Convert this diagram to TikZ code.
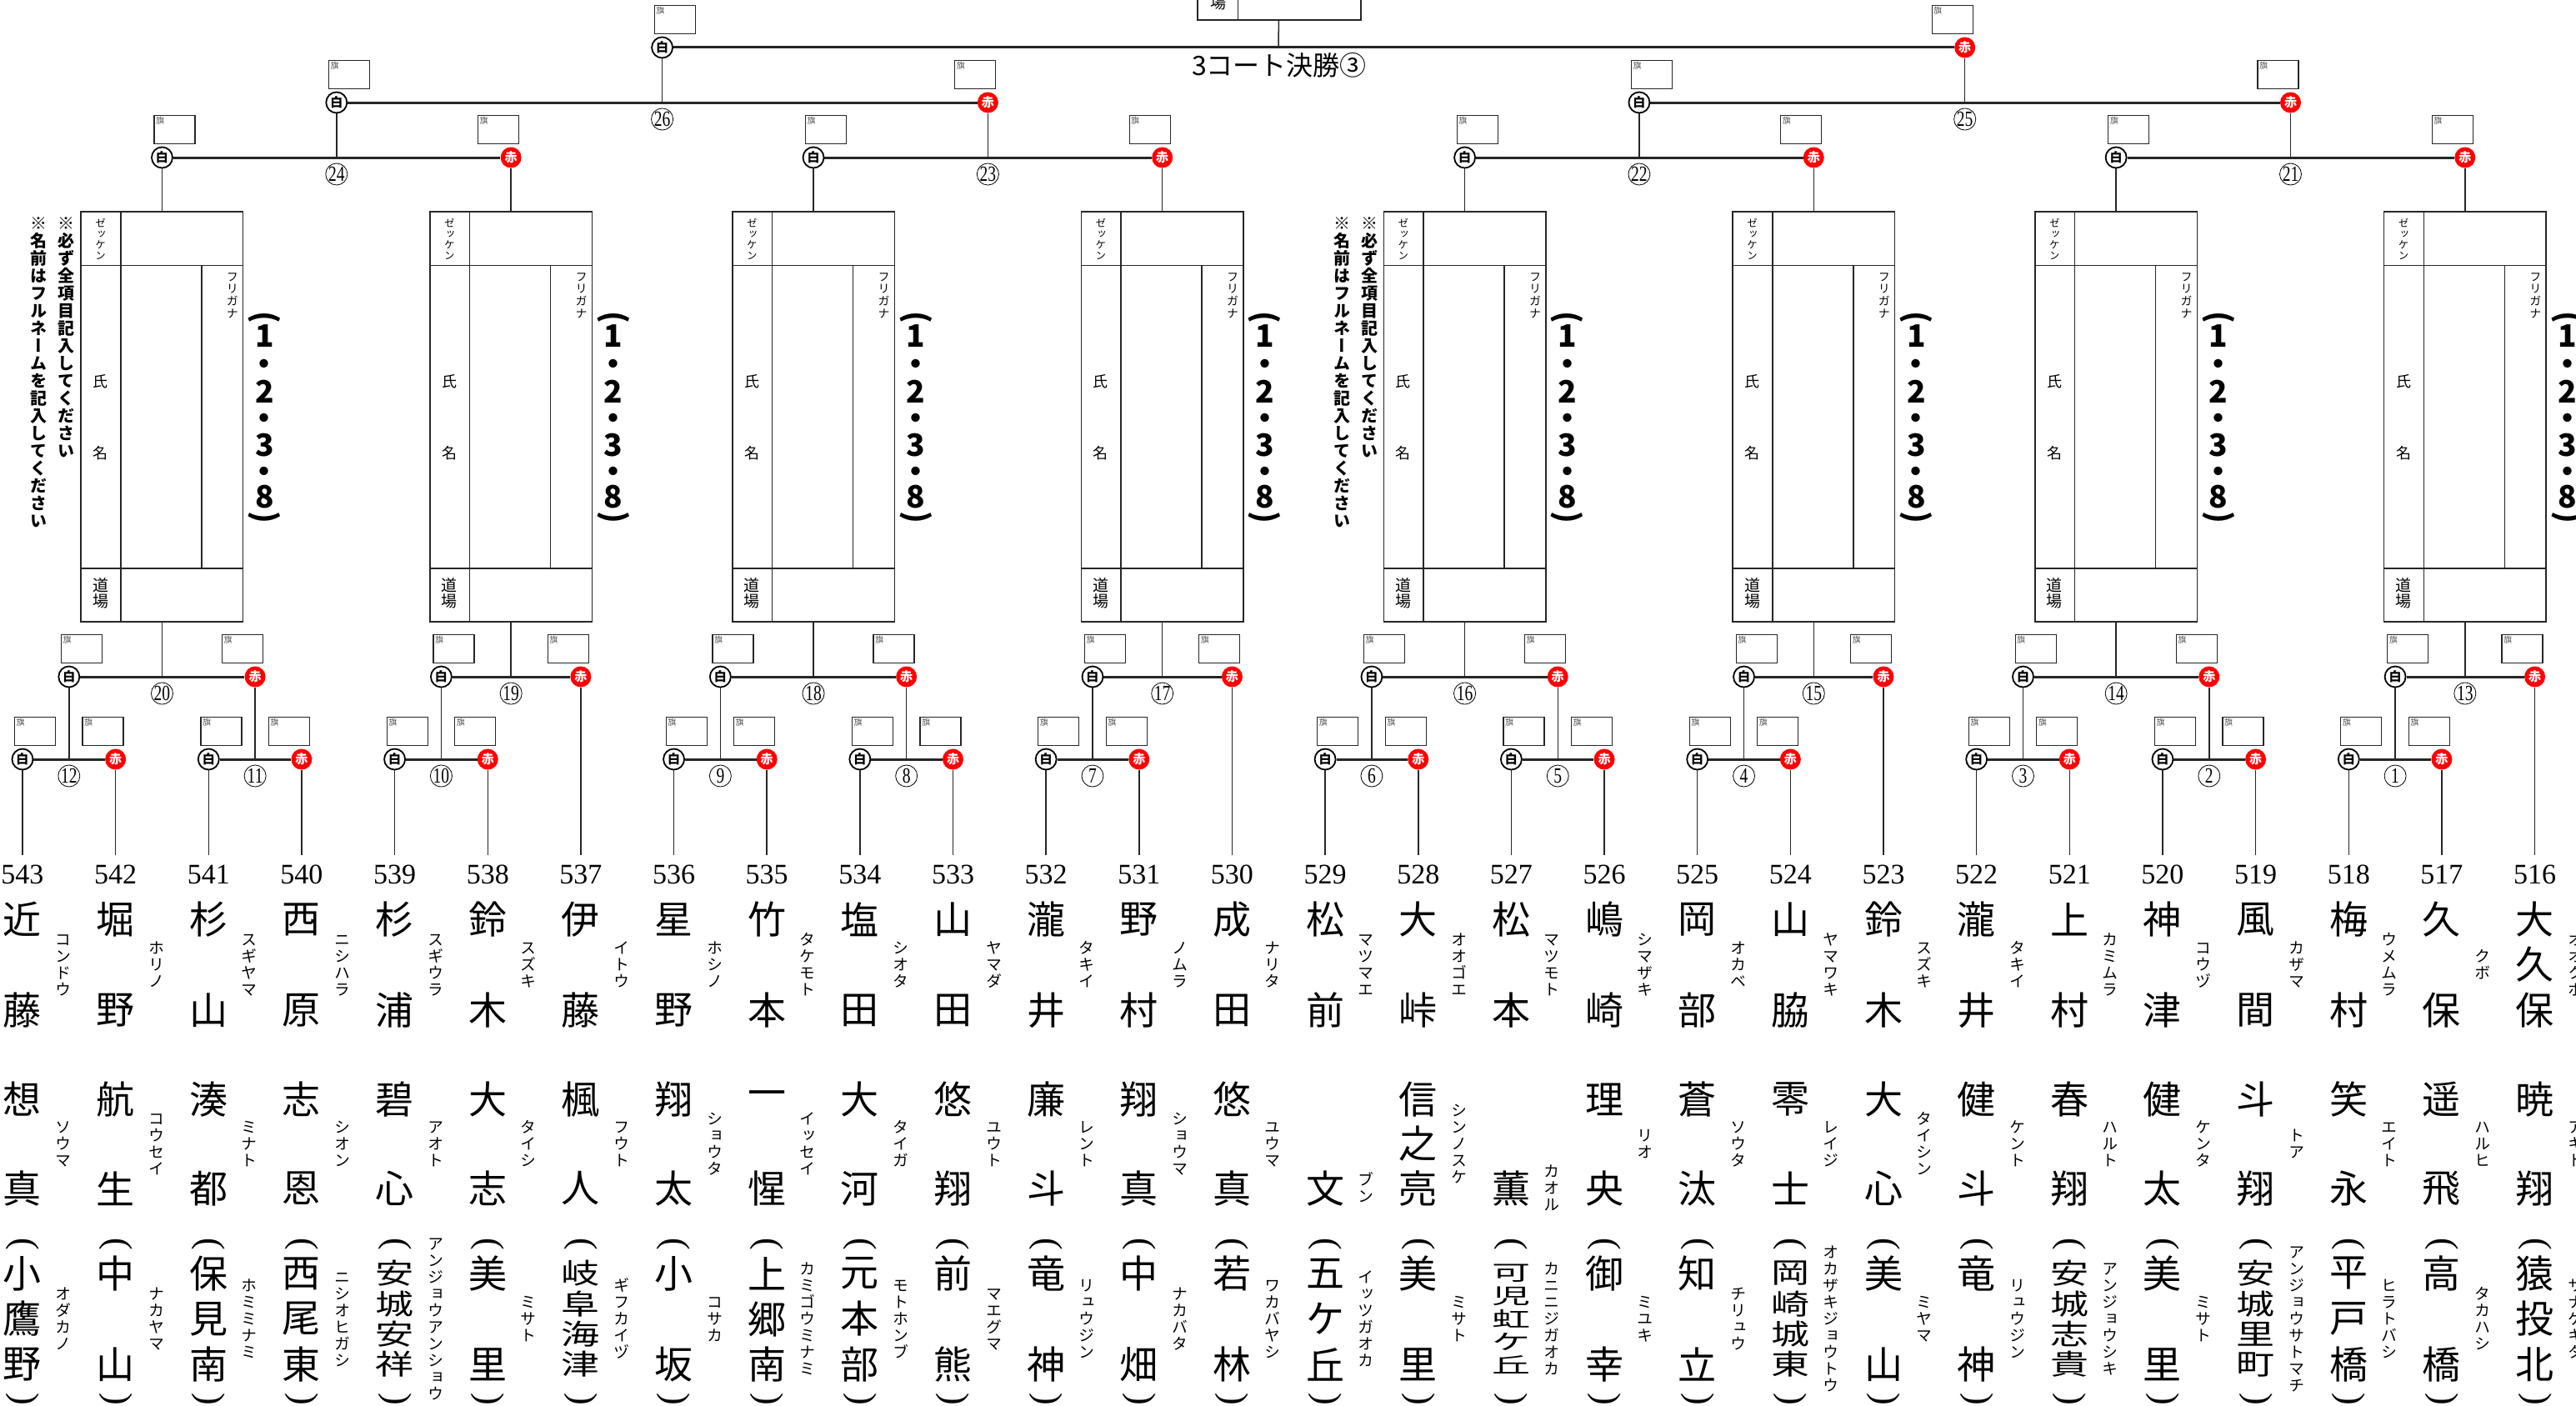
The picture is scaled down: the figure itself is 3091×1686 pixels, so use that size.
\documentclass[tikz,border=0pt]{standalone}
\usepackage{fontspec}
\usepackage{graphicx}
\setmainfont{Liberation Serif}
\newfontfamily\jph{Noto Sans CJK JP}
\newfontfamily\jpv[RawFeature=+vert]{Noto Sans CJK JP}
\usepackage{xcolor}
\definecolor{cLine}{HTML}{262626}
\definecolor{cRed}{HTML}{FF0000}
\definecolor{cFlag}{HTML}{555555}
\usepackage{tikz}
\usetikzlibrary{calc}
\newcommand\fs[1]{\fontsize{#1}{#1}\selectfont}
% vertical text: one character per line
\newcommand\tate[1]{\edef\tateStr{#1}\vbox{\offinterlineskip\expandafter\tatei\tateStr\relax}}
\def\tatei#1{\ifx\relax#1\else\hbox to 1em{\hss\vrule height .88em depth .17em width 0pt\relax#1\hss}\expandafter\tatei\fi}
% characters spread evenly between two heights
\newcount\spN \newcount\spI
\def\cntchi#1{\ifx\relax#1\else\advance\spN by 1 \expandafter\cntchi\fi}
\newcommand\spread[5]{%
  \edef\spStr{#5}\spN=0 \expandafter\cntchi\spStr\relax
  \ifnum\spN>1 \pgfmathsetmacro\spStep{(#4-#3)/(\the\spN-1)}\def\spStart{#3}%
  \else\def\spStep{0}\def\spStart{#4}\fi
  \ifnum\spN>3 \pgfmathsetmacro\spSc{0.85*\spStep/42}\else\def\spSc{1}\fi
  \def\spX{#2}\def\spName{#1}\spI=0
  \expandafter\spreadi\spStr\relax}
\def\spreadi#1{\ifx\relax#1\else
  \node[namechar] (\spName-\the\spI) at (\spX,{\spStart+\the\spI*\spStep}) {\scalebox{1}[\spSc]{#1}};%
  \advance\spI by 1 \expandafter\spreadi\fi}
\tikzset{
  pnum/.style={inner sep=0pt,outer ysep=12pt,font=\fs{34}},
  shiro/.style={circle,draw=black,line width=1.8pt,fill=white,minimum size=25pt,
    inner sep=0pt,font=\jph\bfseries\fs{15}},
  aka/.style={circle,fill=cRed,text=white,minimum size=25pt,inner sep=0pt,
    font=\jph\bfseries\fs{15}},
  matchno/.style={circle,draw=black,line width=.8pt,minimum size=26pt,inner sep=0pt,
    font=\fs{26}},
  hata/.style={draw=cLine,line width=1.2pt,minimum width=49pt,minimum height=34pt,
    inner sep=0pt,label={[anchor=north west,inner sep=2.5pt,text=cFlag,
    font=\jph\fs{10}]north west:旗}},
  meibox/.style={draw=cLine,line width=1.5pt,minimum width=194.5pt,
    minimum height=492pt,inner sep=0pt},
  boxline/.style={draw=cLine,line width=1.5pt},
  bar/.style={draw=cLine,line width=3pt},
  stem/.style={draw=cLine,line width=1.5pt},
  namechar/.style={inner sep=0pt,font=\jph\fs{46}},
  paren/.style={inner sep=0pt,font=\fs{44}},
  furi/.style={inner sep=0pt,font=\jpv\fs{19}},
  lbl/.style={inner sep=0pt},
  bango/.style={inner sep=0pt,font=\jph\bfseries\fs{37}},
  chui/.style={inner sep=0pt,font=\jpv\bfseries\fs{20}},
}
% one bout: white and red marks, bar, flag boxes
\newcommand\taisen[4]{%
  \node[shiro] (w#1) at (#2 |- #4) {白};
  \node[aka] (r#1) at (#3 |- #4) {赤};
  \coordinate (c#1) at ($(w#1)!.5!(r#1)$);
  \draw[bar] (w#1) -- (r#1);
  \node[hata,anchor=south west] (hw#1) at ($(w#1)+(-10,-16)$) {};
  \node[hata,anchor=south east] (hr#1) at ($(r#1)+(10,-16)$) {};
}
\newcommand\nakaten{\smash{\raisebox{-.38em}{・}}}
\begin{document}
\begin{tikzpicture}[x=1pt,y=-1pt]
  \useasboundingbox (0,0) rectangle (3091,1686);
  \coordinate (yF) at (0,57);
  \coordinate (y2) at (0,123);
  \coordinate (y3) at (0,189);
  \coordinate (yb) at (0,500);
  \coordinate (y4) at (0,812);
  \coordinate (y5) at (0,911);

  % player numbers
  \foreach \k in {0,...,27}{
    \pgfmathtruncatemacro\pnumber{543-\k}
    \node[pnum] (n\k) at ({27+111.65*\k},1049) {\pnumber};
  }

  % first round
  \foreach \m/\wk in {12/0,11/2,10/4,9/7,8/9,7/11,6/14,5/16,4/18,3/21,2/23,1/25}{
    \pgfmathtruncatemacro\rk{\wk+1}
    \taisen{\m}{n\wk}{n\rk}{y5}
    \draw[stem] (w\m) -- (n\wk);
    \draw[stem] (r\m) -- (n\rk);
    \node[matchno] (mn\m) at ($(c\m)+(0,20)$) {\scalebox{.75}[1]{\m}};
  }

  % second round
  \foreach \m/\wa/\rb in {20/c12/c11,19/c10/n6,18/c9/c8,17/c7/n13,16/c6/c5,15/c4/n20,14/c3/c2,13/c1/n27}{
    \taisen{\m}{\wa}{\rb}{y4}
    \draw[stem] (\wa) -- (w\m);
    \draw[stem] (\rb) -- (r\m);
    \node[matchno] (mn\m) at ($(c\m)+(0,20)$) {\scalebox{.75}[1]{\m}};
  }

  % entry boxes
  \foreach \i/\m in {1/20,2/19,3/18,4/17,5/16,6/15,7/14,8/13}{
    \node[meibox] (box\i) at (c\m |- yb) {};
    \draw[boxline] ([xshift=48.5pt]box\i.north west) -- ([xshift=48.5pt]box\i.south west);
    \draw[boxline] ([yshift=-65pt]box\i.north west) -- ([yshift=-65pt]box\i.north east);
    \draw[boxline] ([yshift=65pt]box\i.south west) -- ([yshift=65pt]box\i.south east);
    \draw[boxline] ([shift={(145.5pt,-65pt)}]box\i.north west) -- ([shift={(145.5pt,65pt)}]box\i.south west);
    \node[lbl,font=\jpv\fs{12.5}] (zk\i) at ($(box\i.north west)+(24.25,34)$) {\tate{ゼッケン}};
    \node[lbl,font=\jph\fs{18}] (sh\i) at ($(box\i.north west)+(24.25,204)$) {氏};
    \node[lbl,font=\jph\fs{18}] (me\i) at ($(box\i.north west)+(24.25,290)$) {名};
    \node[lbl,font=\jpv\fs{19}] (dj\i) at ($(box\i.north west)+(24.25,459)$) {\tate{道場}};
    \node[lbl,font=\jpv\fs{14}] (fg\i) at ($(box\i.north west)+(182.5,101)$) {\tate{フリガナ}};
    \node[bango,rotate=-90] (bo\i) at ($(box\i.north east)+(25,128)$) {(};
    \node[bango,rotate=-90] (bc\i) at ($(box\i.north east)+(25,368)$) {)};
    \foreach \c/\d [count=\j] in {1/150,\nakaten/183,2/217,\nakaten/248,3/281,\nakaten/312,8/343}
      \node[bango] (bg\i-\j) at ($(box\i.north east)+(25,\d)$) {\c};
    \draw[stem] (c\m) -- (box\i);
  }
  \foreach \i in {1,5}{
    \node[chui,anchor=north] (chA\i) at ($(box\i.north west)+(-16.5,4)$) {\tate{※必ず全項目記入してください}};
    \node[chui,anchor=north] (chB\i) at ($(box\i.north west)+(-49.5,4)$) {\tate{※名前はフルネームを記入してください}};
  }

  % third round
  \foreach \m/\wa/\rb in {24/box1/box2,23/box3/box4,22/box5/box6,21/box7/box8}{
    \taisen{\m}{\wa}{\rb}{y3}
    \draw[stem] (\wa) -- (w\m);
    \draw[stem] (\rb) -- (r\m);
    \node[matchno] (mn\m) at ($(c\m)+(0,20)$) {\scalebox{.75}[1]{\m}};
  }

  % semifinals
  \foreach \m/\wa/\rb in {26/c24/c23,25/c22/c21}{
    \taisen{\m}{\wa}{\rb}{y2}
    \draw[stem] (\wa) -- (w\m);
    \draw[stem] (\rb) -- (r\m);
    \node[matchno] (mn\m) at ($(c\m)+(0,20)$) {\scalebox{.75}[1]{\m}};
  }

  % final
  \taisen{F}{c26}{c25}{yF}
  \draw[stem] (c26) -- (wF);
  \draw[stem] (c25) -- (rF);
  \node[meibox,minimum width=196pt,minimum height=100pt] (kaijo) at (1535,-26) {};
  \draw[boxline] ([xshift=49pt]kaijo.south west) -- ([xshift=49pt]kaijo.north west);
  \node[lbl,font=\jph\fs{19}] (ba) at (1461.5,3) {場};
  \coordinate (cF) at (1534,57);
  \draw[stem] (cF) -- (kaijo);
  \node[lbl,font=\jph\fs{32}] (title) at (1535,78) {3コート決勝③};

  % names
  \foreach \k/\sei/\seik/\mei/\meik/\dojo/\dojok in {
    0/近藤/コンドウ/想真/ソウマ/小鷹野/オダカノ,
    1/堀野/ホリノ/航生/コウセイ/中山/ナカヤマ,
    2/杉山/スギヤマ/湊都/ミナト/保見南/ホミミナミ,
    3/西原/ニシハラ/志恩/シオン/西尾東/ニシオヒガシ,
    4/杉浦/スギウラ/碧心/アオト/安城安祥/アンジョウアンショウ,
    5/鈴木/スズキ/大志/タイシ/美里/ミサト,
    6/伊藤/イトウ/楓人/フウト/岐阜海津/ギフカイヅ,
    7/星野/ホシノ/翔太/ショウタ/小坂/コサカ,
    8/竹本/タケモト/一惺/イッセイ/上郷南/カミゴウミナミ,
    9/塩田/シオタ/大河/タイガ/元本部/モトホンブ,
    10/山田/ヤマダ/悠翔/ユウト/前熊/マエグマ,
    11/瀧井/タキイ/廉斗/レント/竜神/リュウジン,
    12/野村/ノムラ/翔真/ショウマ/中畑/ナカバタ,
    13/成田/ナリタ/悠真/ユウマ/若林/ワカバヤシ,
    14/松前/マツマエ/文/ブン/五ケ丘/イッツガオカ,
    15/大峠/オオゴエ/信之亮/シンノスケ/美里/ミサト,
    16/松本/マツモト/薫/カオル/可児虹ケ丘/カニニジガオカ,
    17/嶋崎/シマザキ/理央/リオ/御幸/ミユキ,
    18/岡部/オカベ/蒼汰/ソウタ/知立/チリュウ,
    19/山脇/ヤマワキ/零士/レイジ/岡崎城東/オカザキジョウトウ,
    20/鈴木/スズキ/大心/タイシン/美山/ミヤマ,
    21/瀧井/タキイ/健斗/ケント/竜神/リュウジン,
    22/上村/カミムラ/春翔/ハルト/安城志貴/アンジョウシキ,
    23/神津/コウヅ/健太/ケンタ/美里/ミサト,
    24/風間/カザマ/斗翔/トア/安城里町/アンジョウサトマチ,
    25/梅村/ウメムラ/笑永/エイト/平戸橋/ヒラトバシ,
    26/久保/クボ/遥飛/ハルヒ/高橋/タカハシ,
    27/大久保/オオクボ/暁翔/アキト/猿投北/サナゲキタ}{
    \pgfmathsetmacro\xk{27+111.65*\k}
    \spread{sei\k}{\xk}{1103}{1212}{\sei}
    \node[furi] (fs\k) at (\xk+49,1157.5) {\tate{\seik}};
    \spread{mei\k}{\xk}{1319}{1426}{\mei}
    \ifnum\spN>1 \def\mky{1372.5}\else\def\mky{1426}\fi
    \node[furi] (fm\k) at (\xk+49,\mky) {\tate{\meik}};
    \spread{dojo\k}{\xk}{1528}{1637}{\dojo}
    \node[furi] (fd\k) at (\xk+49,1582.5) {\tate{\dojok}};
    \node[paren,rotate=-90] (po\k) at (\xk,1493) {(};
    \node[paren,rotate=-90] (pc\k) at (\xk,1679) {)};
  }
\end{tikzpicture}
\end{document}
